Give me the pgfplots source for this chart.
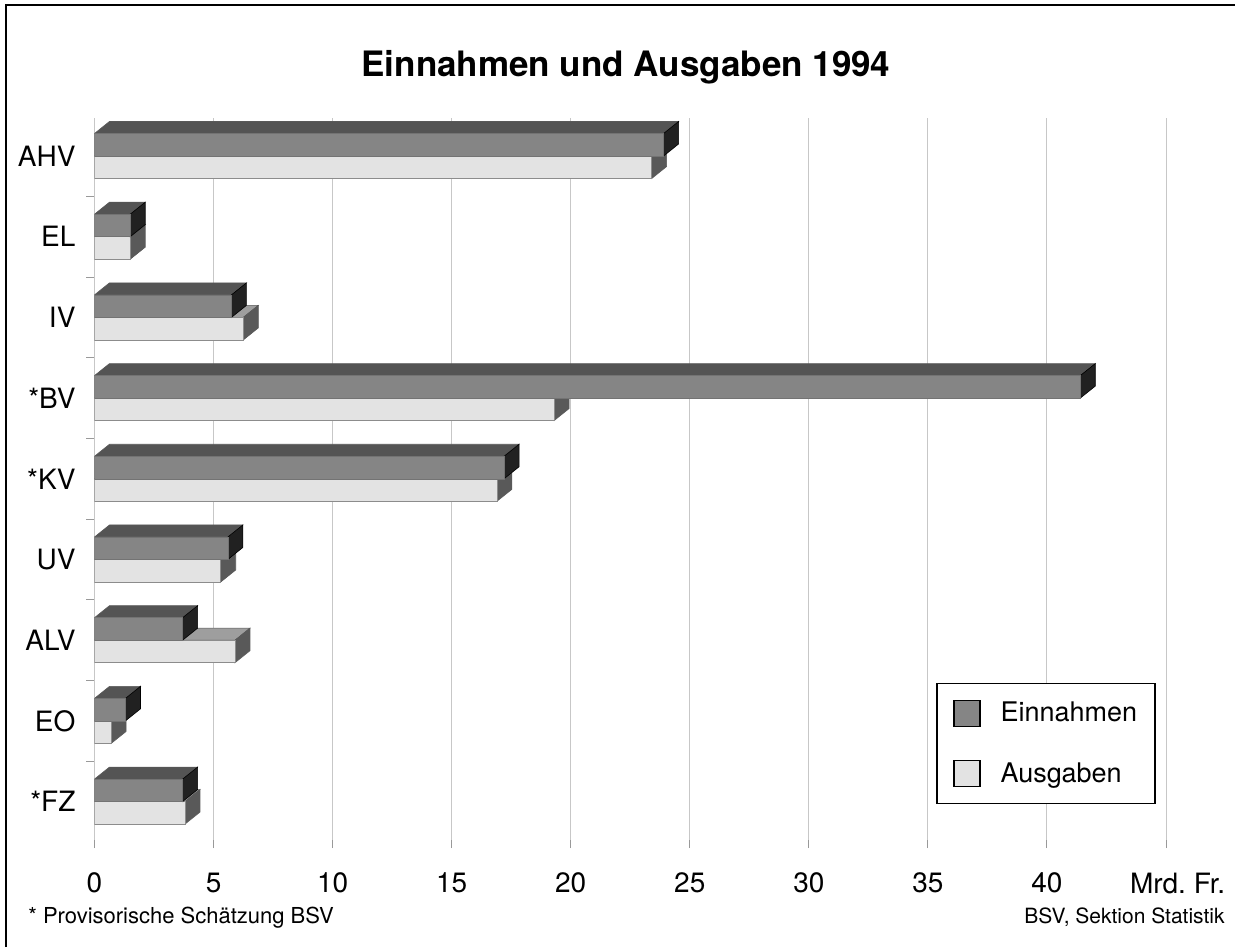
\documentclass[border=0pt]{standalone}
\usepackage{fontspec}
\setmainfont{TeX Gyre Heros}
\usepackage{pgfplots}
\usepackage{pgfplotstable}
\pgfplotsset{compat=1.18}

\definecolor{efront}{gray}{0.52}
\definecolor{etop}{gray}{0.33}
\definecolor{eside}{gray}{0.13}
\definecolor{afront}{gray}{0.89}
\definecolor{atop}{gray}{0.62}
\definecolor{aside}{gray}{0.35}
\definecolor{edge}{gray}{0.35}

\pgfplotstableread{
cat y E A
AHV 8 23.9 23.4
EL 7 1.5 1.5
IV 6 5.75 6.25
BV 5 41.4 19.3
KV 4 17.2 16.9
UV 3 5.6 5.3
ALV 2 3.7 5.9
EO 1 1.3 0.7
FZ 0 3.7 3.8
}\datatab

\def\bh{0.279}
\def\dx{0.63}
\def\dy{0.149}

\begin{document}
\begin{tikzpicture}
\useasboundingbox (0,0) rectangle (617.5pt,-473.5pt);
\draw[line width=1pt] (3pt,-473.5pt) -- (3pt,-2.5pt) -- (617.5pt,-2.5pt);

\node[font=\fontsize{17.5}{20}\selectfont\bfseries, anchor=base] at (313pt,-38pt) {Einnahmen und Ausgaben 1994};
\node[font=\fontsize{11}{13}\selectfont, anchor=base west, inner sep=0pt] at (14pt,-461.5pt) {* Provisorische Schätzung BSV};
\node[font=\fontsize{10.5}{12}\selectfont, anchor=base east, inner sep=0pt] at (612.5pt,-461.5pt) {BSV, Sektion Statistik};

\begin{axis}[
  at={(47.25pt,-420pt)}, anchor=south west,
  scale only axis, width=535.75pt, height=361pt,
  xmin=0, xmax=45, ymin=-0.476, ymax=8.471,
  axis line style={draw=black!45, line width=0.5pt},
  separate axis lines,
  x axis line style={draw=black!30},
  every outer x axis line/.append style={draw=none},
  every outer y axis line/.append style={draw=none},
  no markers,
  xtick pos=bottom, ytick pos=left,
  xtick={0,5,...,45},
  xticklabels={0,5,10,15,20,25,30,35,40,{\makebox[0pt][l]{\hspace{-18pt}Mrd.\ Fr.}}},
  xmajorgrids,
  grid style={draw=black!22, line width=0.5pt},
  ytick={0,...,8},
  yticklabels={*FZ,EO,ALV,UV,*KV,*BV,IV,EL,AHV},
  minor ytick={0.5,1.5,...,7.5},
  tick align=outside,
  major tick length=4pt, minor tick length=4pt,
  tick style={draw=black!40, line width=0.5pt},
  major y tick style={draw=none},
  xticklabel style={font=\fontsize{14}{16}\selectfont, yshift=-9pt},
  yticklabel style={font=\fontsize{14}{16}\selectfont, xshift=-2pt},
  /pgf/number format/assume math mode=true,
  legend image code/.code={\draw[#1] (0pt,-6.5pt) rectangle (13pt,6.5pt);},
  legend style={at={(axis cs:35.36,1.47)}, anchor=north west, draw=black, line width=0.7pt,
    fill=white, inner xsep=8pt, inner ysep=8pt, row sep=16.5pt,
    font=\fontsize{13.5}{15}\selectfont, nodes={inner sep=1pt, anchor=west},
    /tikz/every odd column/.append style={column sep=9pt}},
  legend cell align=left,
]

% Ausgaben 3D faces
\pgfplotsinvokeforeach{0,...,8}{%
  \pgfplotstablegetelem{#1}{y}\of\datatab \let\Yc\pgfplotsretval
  \pgfplotstablegetelem{#1}{A}\of\datatab \let\Va\pgfplotsretval
  \pgfmathsetmacro\ya{\Yc}
  \pgfmathsetmacro\yb{\Yc-\bh}
  \pgfmathsetmacro\yc{\Yc+\dy}
  \pgfmathsetmacro\yd{\Yc-\bh+\dy}
  \pgfmathsetmacro\xa{\Va+\dx}
  \addplot[fill=atop, draw=edge, line width=0.3pt, forget plot] coordinates {(0,\ya) (\Va,\ya) (\xa,\yc) (\dx,\yc)} -- cycle;
  \addplot[fill=aside, draw=edge, line width=0.3pt, forget plot] coordinates {(\Va,\yb) (\Va,\ya) (\xa,\yc) (\xa,\yd)} -- cycle;
}
\addplot[xbar, bar width=\bh, bar shift=-0.1395, fill=afront, draw=black!45, line width=0.3pt, forget plot]
  table[x=A, y=y] {\datatab};

% Einnahmen 3D faces
\pgfplotsinvokeforeach{0,...,8}{%
  \pgfplotstablegetelem{#1}{y}\of\datatab \let\Yc\pgfplotsretval
  \pgfplotstablegetelem{#1}{E}\of\datatab \let\Ve\pgfplotsretval
  \pgfmathsetmacro\ya{\Yc+\bh}
  \pgfmathsetmacro\yb{\Yc}
  \pgfmathsetmacro\yc{\Yc+\bh+\dy}
  \pgfmathsetmacro\yd{\Yc+\dy}
  \pgfmathsetmacro\xa{\Ve+\dx}
  \addplot[fill=etop, draw=edge, line width=0.3pt, forget plot] coordinates {(0,\ya) (\Ve,\ya) (\xa,\yc) (\dx,\yc)} -- cycle;
  \addplot[fill=eside, draw=black, line width=0.3pt, forget plot] coordinates {(\Ve,\yb) (\Ve,\ya) (\xa,\yc) (\xa,\yd)} -- cycle;
}
\addplot[xbar, bar width=\bh, bar shift=0.1395, fill=efront, draw=black!55, line width=0.3pt, forget plot]
  table[x=E, y=y] {\datatab};

\addlegendimage{fill=efront, draw=black, line width=0.7pt}
\addlegendentry{Einnahmen}
\addlegendimage{fill=afront, draw=black, line width=0.7pt}
\addlegendentry{Ausgaben}
\end{axis}
\end{tikzpicture}
\end{document}
